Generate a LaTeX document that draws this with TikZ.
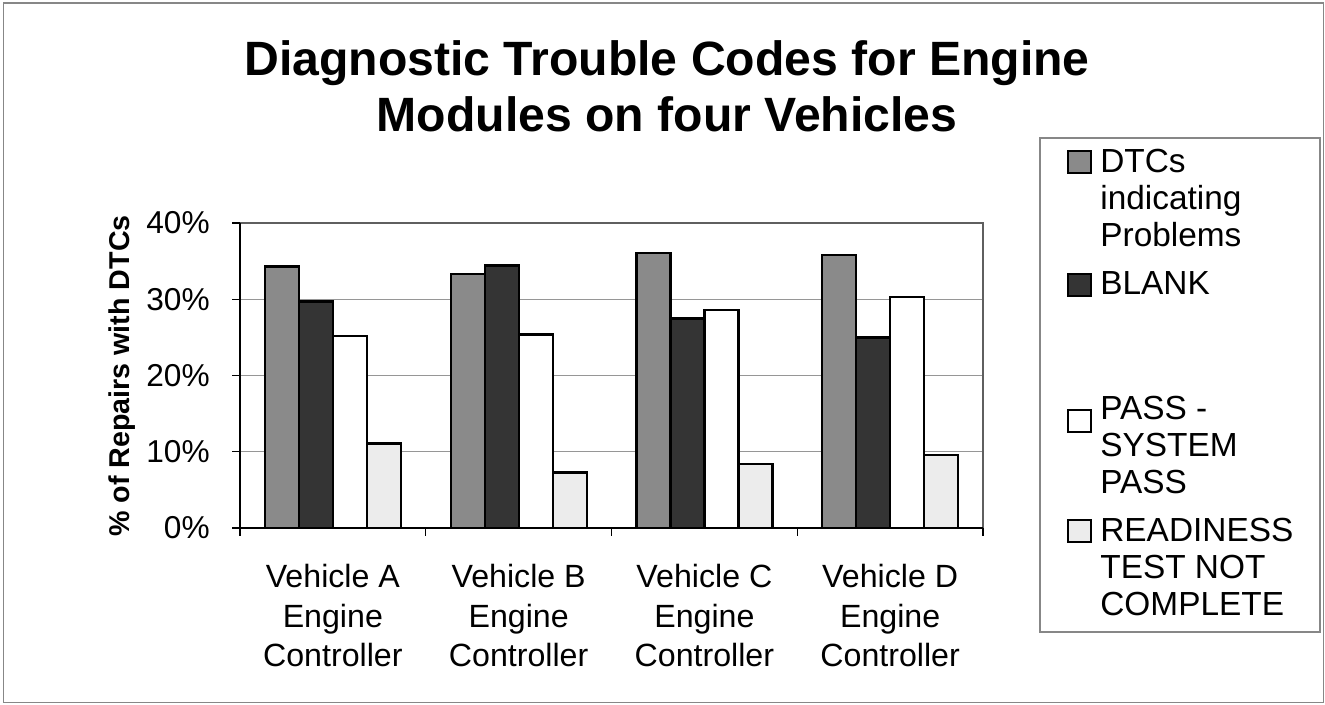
\documentclass[tikz,border=0pt]{standalone}
\usepackage{fontspec}
\setmainfont{Liberation Sans}
\usetikzlibrary{positioning}
\definecolor{dtcgray}{RGB}{138,138,138}
\definecolor{blankgray}{RGB}{52,52,52}
\definecolor{readylight}{RGB}{236,236,236}
\definecolor{gridgray}{RGB}{150,150,150}
\definecolor{framegray}{RGB}{135,135,135}

\begin{document}
\begin{tikzpicture}[
  barbox/.style={draw=black,line width=1.4pt},
  gridln/.style={draw=gridgray,line width=0.6pt},
  ticklabel/.style={anchor=east,inner sep=0pt,font=\fontsize{18}{21}\selectfont},
  catlabel/.style={anchor=north,align=center,inner sep=0pt,font=\fontsize{18.3}{22.5}\selectfont},
  legsq/.style={draw=black,line width=1pt,minimum width=4.6mm,minimum height=4.4mm,inner sep=0pt},
  legtext/.style={anchor=north west,align=left,inner sep=0pt,font=\fontsize{19}{21}\selectfont}
]
\useasboundingbox (0,0) rectangle (26.5,14.08);

% outer frame
\draw[framegray,line width=1pt] (0.07,0.03) rectangle (26.47,14.02);

% title
\node[align=center,anchor=north,inner sep=0pt,font=\bfseries\fontsize{27.4}{32.2}\selectfont] (title) at (13.34,13.28)
  {Diagnostic Trouble Codes for Engine\\Modules on four Vehicles};

% plot area, y in percent
\begin{scope}[shift={(4.8,3.52)},y=0.1525cm]
  \draw[gridln] (0,10) -- (14.86,10);
  \draw[gridln] (0,20) -- (14.86,20);
  \draw[gridln] (0,30) -- (14.86,30);
  \draw[framegray!70!black,line width=0.8pt] (0,40) -- (14.86,40) -- (14.86,0);
  \draw[line width=0.8pt] (0,40) -- (0,0) -- (14.86,0);

  % value ticks
  \draw[line width=0.6pt] (-0.16,0) -- (0,0) (-0.16,10) -- (0,10) (-0.16,20) -- (0,20)
    (-0.16,30) -- (0,30) (-0.16,40) -- (0,40);
  % category ticks
  \draw[line width=0.6pt] (0,0) -- ++(0,-0.16cm) (3.715,0) -- ++(0,-0.16cm) (7.43,0) -- ++(0,-0.16cm)
    (11.145,0) -- ++(0,-0.16cm) (14.86,0) -- ++(0,-0.16cm);

  \node[ticklabel] (tk0)  at (-0.6,0)  {0\%};
  \node[ticklabel] (tk10) at (-0.6,10) {10\%};
  \node[ticklabel] (tk20) at (-0.6,20) {20\%};
  \node[ticklabel] (tk30) at (-0.6,30) {30\%};
  \node[ticklabel] (tk40) at (-0.6,40) {40\%};

  % Vehicle A
  \draw[barbox,fill=dtcgray]    (0.5,0)  rectangle ++(0.68,34.3);
  \draw[barbox,fill=blankgray]  (1.18,0) rectangle ++(0.68,29.7);
  \draw[barbox,fill=white]      (1.86,0) rectangle ++(0.68,25.2);
  \draw[barbox,fill=readylight] (2.54,0) rectangle ++(0.68,11.1);
  % Vehicle B
  \draw[barbox,fill=dtcgray]    (4.215,0) rectangle ++(0.68,33.3);
  \draw[barbox,fill=blankgray]  (4.895,0) rectangle ++(0.68,34.4);
  \draw[barbox,fill=white]      (5.575,0) rectangle ++(0.68,25.4);
  \draw[barbox,fill=readylight] (6.255,0) rectangle ++(0.68,7.3);
  % Vehicle C
  \draw[barbox,fill=dtcgray]    (7.93,0)  rectangle ++(0.68,36.1);
  \draw[barbox,fill=blankgray]  (8.61,0)  rectangle ++(0.68,27.5);
  \draw[barbox,fill=white]      (9.29,0)  rectangle ++(0.68,28.6);
  \draw[barbox,fill=readylight] (9.97,0)  rectangle ++(0.68,8.4);
  % Vehicle D
  \draw[barbox,fill=dtcgray]    (11.645,0) rectangle ++(0.68,35.8);
  \draw[barbox,fill=blankgray]  (12.325,0) rectangle ++(0.68,25.0);
  \draw[barbox,fill=white]      (13.005,0) rectangle ++(0.68,30.3);
  \draw[barbox,fill=readylight] (13.685,0) rectangle ++(0.68,9.6);
\end{scope}

% axis title and categories
\node[rotate=90,inner sep=0pt,font=\bfseries\fontsize{16.3}{19}\selectfont] (ylab) at (2.44,6.56) {\% of Repairs with DTCs};
\node[catlabel] (vehA) at (6.657,2.8)  {Vehicle A\\Engine\\Controller};
\node[catlabel] (vehB) at (10.373,2.8) {Vehicle B\\Engine\\Controller};
\node[catlabel] (vehC) at (14.088,2.8) {Vehicle C\\Engine\\Controller};
\node[catlabel] (vehD) at (17.803,2.8) {Vehicle D\\Engine\\Controller};

% legend
\draw[framegray,line width=0.6pt] (20.8,1.44) rectangle (26.4,11.32);
\node[legsq,fill=dtcgray]    (sqdtc)   at (21.59,10.84) {};
\node[legsq,fill=blankgray]  (sqblank) at (21.59,8.38)  {};
\node[legsq,fill=white]      (sqpass)  at (21.59,5.66)  {};
\node[legsq,fill=readylight] (sqready) at (21.59,3.46)  {};
\node[legtext] (lgdtc)   at (22.0,11.1)  {DTCs\\indicating\\Problems};
\node[legtext] (lgblank) at (22.0,8.66)  {BLANK};
\node[legtext] (lgpass)  at (22.0,6.16)  {PASS -\\SYSTEM\\PASS};
\node[legtext] (lgready) at (22.0,3.72)  {READINESS\\TEST NOT\\COMPLETE};
\end{tikzpicture}
\end{document}
